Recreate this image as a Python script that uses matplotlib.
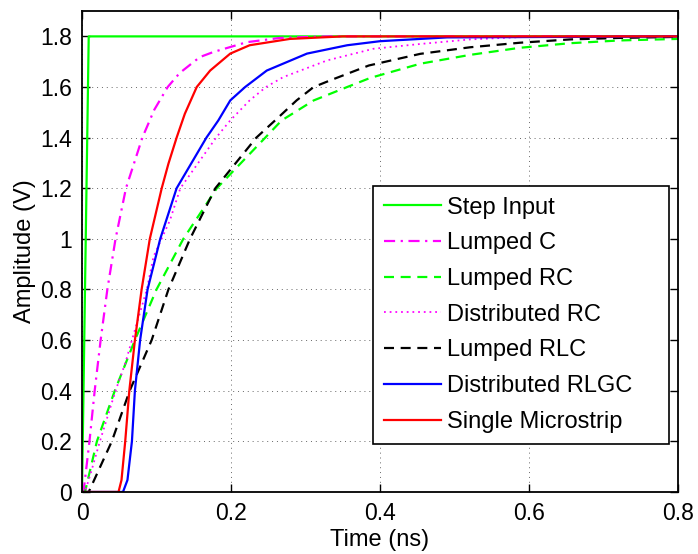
import matplotlib
matplotlib.use('Agg')
import matplotlib.pyplot as plt

plt.rcParams['font.family'] = ['Liberation Sans', 'DejaVu Sans']

# values (time in ns, amplitude in V)
t_step = [0, 0.009, 0.8]
v_step = [0, 1.8, 1.8]

t_lc = [0, 0.002, 0.010, 0.017, 0.025, 0.034, 0.045, 0.059, 0.081, 0.097,
        0.115, 0.131, 0.158, 0.176, 0.221, 0.266, 0.33, 0.8]
v_lc = [0, 0, 0.2, 0.4, 0.6, 0.8, 1.0, 1.2, 1.4, 1.51,
        1.6, 1.655, 1.718, 1.738, 1.777, 1.794, 1.8, 1.8]

t_lrc = [0, 0.004, 0.020, 0.044, 0.071, 0.100, 0.136, 0.181, 0.246, 0.268,
         0.311, 0.356, 0.387, 0.454, 0.521, 0.588, 0.655, 0.722, 0.8]
v_lrc = [0, 0, 0.2, 0.4, 0.6, 0.8, 1.0, 1.2, 1.4, 1.468,
         1.547, 1.6, 1.636, 1.692, 1.727, 1.755, 1.773, 1.784, 1.79]

t_drc = [0, 0.004, 0.013, 0.024, 0.045, 0.058, 0.067, 0.087, 0.096, 0.118,
         0.132, 0.180, 0.199, 0.225, 0.247, 0.270, 0.329, 0.391, 0.454,
         0.521, 0.588, 0.8]
v_drc = [0, 0, 0.087, 0.2, 0.4, 0.508, 0.6, 0.8, 0.93, 1.073,
         1.2, 1.4, 1.468, 1.547, 1.6, 1.639, 1.705, 1.751, 1.77,
         1.788, 1.797, 1.8]

t_rlc = [0, 0.009, 0.040, 0.064, 0.0935, 0.116, 0.145, 0.179, 0.234, 0.264,
         0.288, 0.311, 0.333, 0.385, 0.454, 0.521, 0.588, 0.655, 0.722, 0.8]
v_rlc = [0, 0, 0.2, 0.4, 0.6, 0.8, 1.0, 1.2, 1.4, 1.481,
         1.547, 1.6, 1.626, 1.685, 1.731, 1.757, 1.775, 1.788, 1.794, 1.798]

t_rlgc = [0, 0.055, 0.061, 0.067, 0.071, 0.078, 0.088, 0.105, 0.127, 0.167,
          0.183, 0.199, 0.219, 0.248, 0.302, 0.356, 0.4, 0.49, 0.8]
v_rlgc = [0, 0, 0.047, 0.2, 0.4, 0.6, 0.8, 1.0, 1.2, 1.4,
          1.468, 1.547, 1.6, 1.665, 1.732, 1.765, 1.781, 1.796, 1.8]

t_ms = [0, 0.049, 0.053, 0.058, 0.0635, 0.071, 0.080, 0.091, 0.107, 0.116,
        0.127, 0.138, 0.154, 0.172, 0.199, 0.225, 0.279, 0.35, 0.8]
v_ms = [0, 0, 0.047, 0.2, 0.4, 0.6, 0.8, 1.0, 1.2, 1.297,
        1.4, 1.494, 1.6, 1.665, 1.732, 1.765, 1.79, 1.8, 1.8]

fig = plt.figure(figsize=(6.98, 5.54), dpi=100)
ax = fig.add_axes([0.1175, 0.112, 0.8538, 0.868])

lw = 1.6
ax.plot(t_step, v_step, color=(0, 1, 0), lw=lw, label='Step Input')
ax.plot(t_lc, v_lc, color=(1, 0, 1), lw=lw, dashes=(5, 2.5, 1, 2.5), label='Lumped C')
ax.plot(t_lrc, v_lrc, color=(0, 1, 0), lw=lw, dashes=(4.5, 3), label='Lumped RC')
ax.plot(t_drc, v_drc, color=(1, 0, 1), lw=lw * 0.8, dashes=(1, 2.2), label='Distributed RC')
ax.plot(t_rlc, v_rlc, color='k', lw=lw, dashes=(4.5, 3), label='Lumped RLC')
ax.plot(t_rlgc, v_rlgc, color=(0, 0, 1), lw=lw, label='Distributed RLGC')
ax.plot(t_ms, v_ms, color=(1, 0, 0), lw=lw, label='Single Microstrip')

ax.set_xlim(0, 0.8)
ax.set_ylim(0, 1.9)
ax.set_xticks([0, 0.2, 0.4, 0.6, 0.8])
ax.set_xticklabels(['0', '0.2', '0.4', '0.6', '0.8'])
ax.set_yticks([0, 0.2, 0.4, 0.6, 0.8, 1.0, 1.2, 1.4, 1.6, 1.8])
ax.set_yticklabels(['0', '0.2', '0.4', '0.6', '0.8', '1', '1.2', '1.4', '1.6', '1.8'])
ax.tick_params(direction='in', length=6, width=1, top=True, right=True, labelsize=16.5, pad=7)
ax.grid(True, linestyle=(0, (1, 4)), color='k', linewidth=0.7, alpha=0.6)
for s in ax.spines.values():
    s.set_linewidth(1.3)

ax.set_xlabel('Time (ns)', fontsize=17, labelpad=3)
ax.set_ylabel('Amplitude (V)', fontsize=17, labelpad=3)

# legend box spans roughly x 0.488..0.985, y 0.10..0.636 of the axes
leg = ax.legend(loc='lower left', bbox_to_anchor=(0.488, 0.10, 0.497, 0.536),
                mode='expand', borderaxespad=0,
                fontsize=17, fancybox=False, framealpha=1, edgecolor='k',
                handlelength=2.4, handletextpad=0.25, labelspacing=0.58,
                borderpad=0.47)
leg.get_frame().set_linewidth(1.2)

fig.savefig('out.png', dpi=100)
